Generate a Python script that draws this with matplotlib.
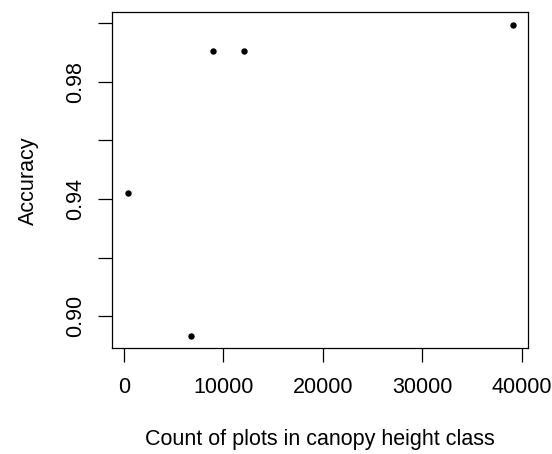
import matplotlib
matplotlib.use("Agg")
import matplotlib.pyplot as plt

plt.rcParams['font.family'] = ['Liberation Sans', 'DejaVu Sans']

counts = [39116, 8925, 12040, 382, 6754]
accuracy = [0.9994, 0.9906, 0.9906, 0.9420, 0.8933]
xticks = [0, 10000, 20000, 30000, 40000]
yticks = [0.90, 0.92, 0.94, 0.96, 0.98, 1.00]
ytick_labels = ["0.90", "", "0.94", "", "0.98", ""]

W, H = 552, 454
fig = plt.figure(figsize=(W / 100, H / 100), dpi=100)
ax = fig.add_axes([112.3 / W, 1 - 348.3 / H, (528.3 - 112.3) / W, (348.3 - 12.3) / H])

ax.plot(counts, accuracy, 'o', color='black', markersize=4.6, markeredgewidth=0)

xr = max(counts) - min(counts)
yr = max(accuracy) - min(accuracy)
ax.set_xlim(min(counts) - 0.04 * xr, max(counts) + 0.04 * xr)
ax.set_ylim(min(accuracy) - 0.04 * yr, max(accuracy) + 0.04 * yr)

ax.set_xticks(xticks)
ax.set_xticklabels([str(v) for v in xticks])
ax.set_yticks(yticks)
ax.set_yticklabels(ytick_labels, rotation=90, va='center')

for s in ax.spines.values():
    s.set_linewidth(0.9)
ax.tick_params(axis='both', length=10, width=0.9, labelsize=15.5, colors='black', pad=5)
ax.tick_params(axis='x', pad=11)
ax.tick_params(axis='y', pad=9)

fig.text(320 / W, 1 - 440 / H, "Count of plots in canopy height class", ha='center', va='center', fontsize=15.5)
fig.text(28 / W, 1 - 180.3 / H, "Accuracy", ha='center', va='center', rotation=90, fontsize=15.5)

fig.savefig("out.png", dpi=100)
